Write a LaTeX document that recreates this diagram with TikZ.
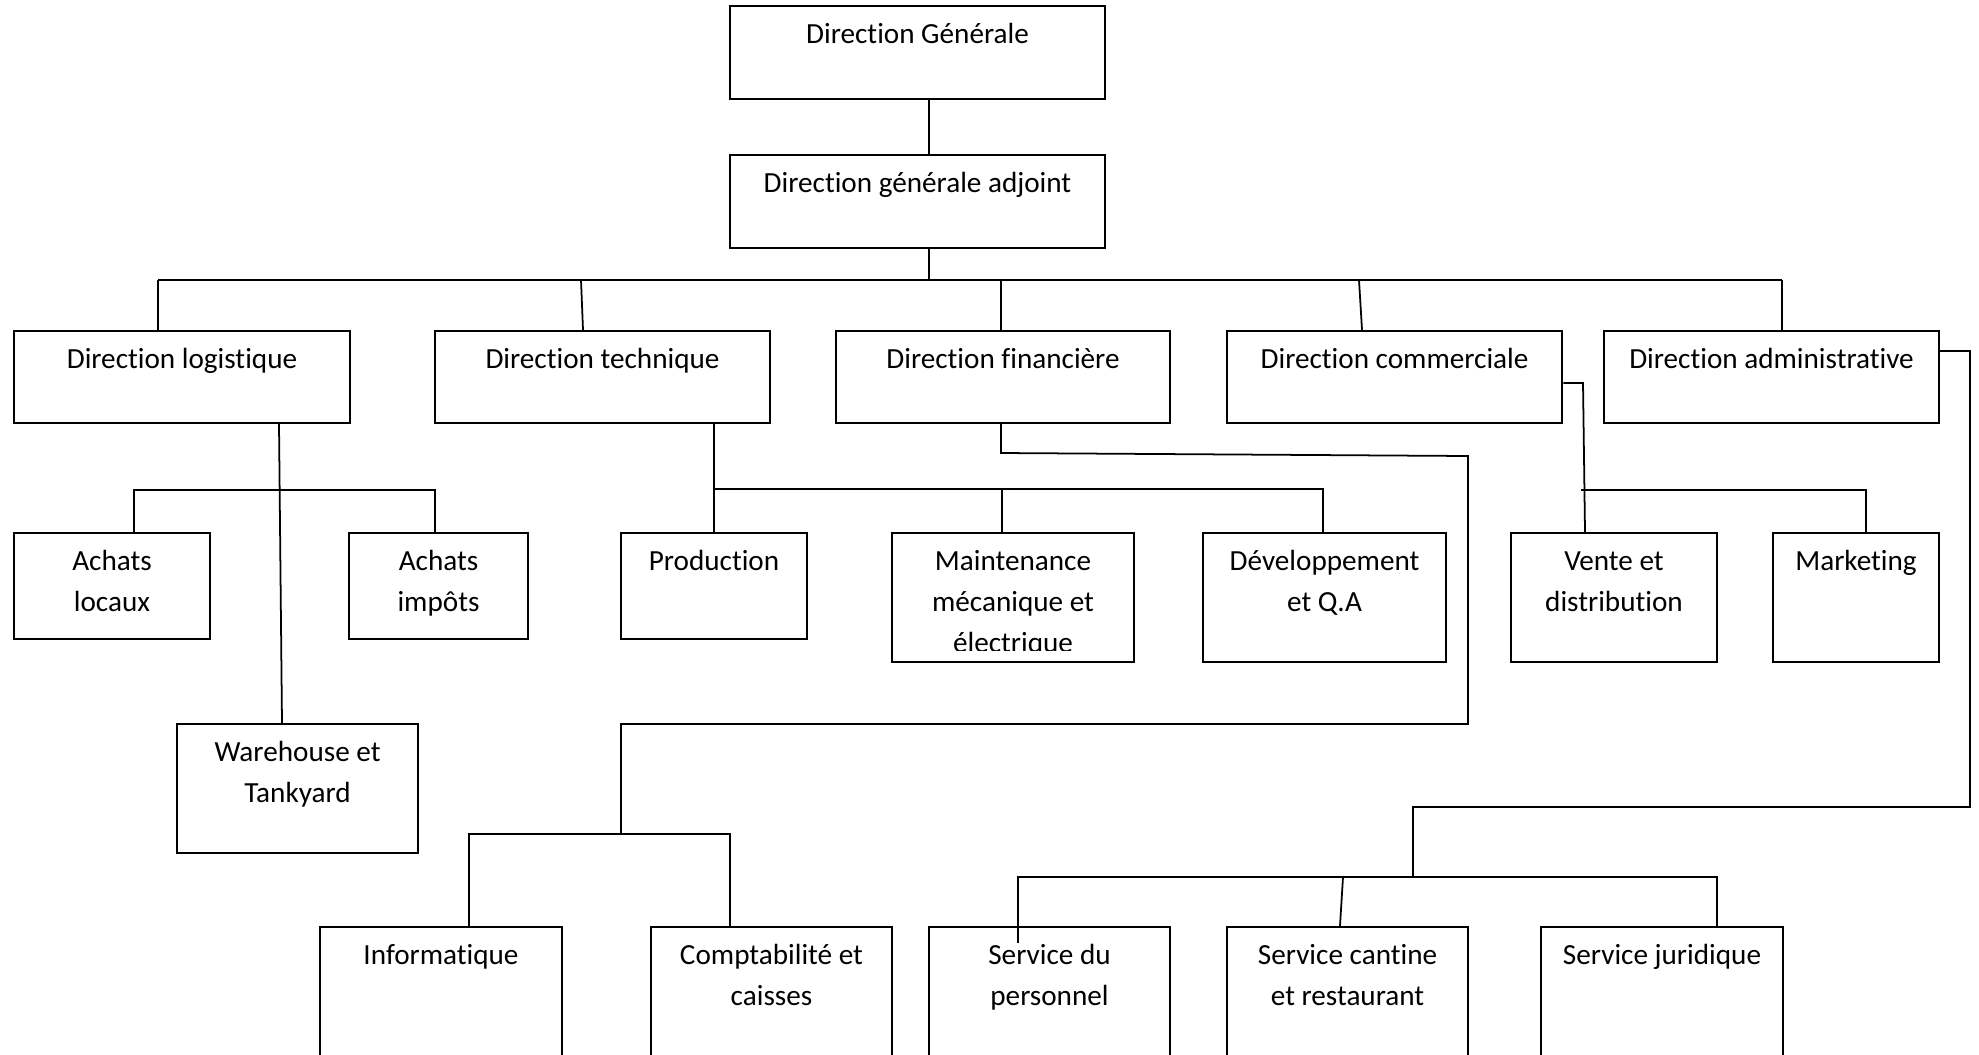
\documentclass[tikz,border=0pt]{standalone}
\usepackage{fontspec}
\setmainfont{Carlito}[Ligatures=NoCommon]
\usetikzlibrary{fit}
\newcommand\fstrut{\rule{0pt}{8pt}}
\begin{document}
\begin{tikzpicture}[x=0.01cm,y=-0.01cm,
  box/.style={draw,line width=0.7pt,inner sep=0pt},
  ln/.style={line width=0.5pt},
  lbl/.style={font=\fontsize{8.3}{11.67}\selectfont,align=center,inner sep=0pt,anchor=north}]
\useasboundingbox (0,0) rectangle (1979,1054);
\clip (0,0) rectangle (1979,1054);
% boxes
\node[box,fit={(730,6)(1105,99)}] (dg) {};
\node[box,fit={(730,155)(1105,248)}] (dga) {};
\node[box,fit={(14,331)(350,423)}] (log) {};
\node[box,fit={(435,331)(770,423)}] (tech) {};
\node[box,fit={(836,331)(1170,423)}] (fin) {};
\node[box,fit={(1227,331)(1562,423)}] (com) {};
\node[box,fit={(1604,331)(1939,423)}] (adm) {};
\node[box,fit={(14,533)(210,639)}] (al) {};
\node[box,fit={(349,533)(528,639)}] (ai) {};
\node[box,fit={(177,724)(418,853)}] (wh) {};
\node[box,fit={(621,533)(807,639)}] (prod) {};
\node[box,fit={(892,533)(1134,662)}] (maint) {};
\node[box,fit={(1203,533)(1446,662)}] (dev) {};
\node[box,fit={(1511,533)(1717,662)}] (vente) {};
\node[box,fit={(1773,533)(1939,662)}] (mkt) {};
\node[box,fit={(320,927)(562,1090)}] (info) {};
\node[box,fit={(651,927)(892,1090)}] (compta) {};
\node[box,fit={(929,927)(1170,1090)}] (pers) {};
\node[box,fit={(1227,927)(1468,1090)}] (cant) {};
\node[box,fit={(1541,927)(1783,1090)}] (jur) {};
% labels
\node[lbl] (tdg) at ([yshift=-0.099cm]dg.north) {\fstrut Direction Générale};
\node[lbl] (tdga) at ([yshift=-0.099cm]dga.north) {\fstrut Direction générale adjoint};
\node[lbl] (tlog) at ([yshift=-0.099cm]log.north) {\fstrut Direction logistique};
\node[lbl] (ttech) at ([yshift=-0.099cm]tech.north) {\fstrut Direction technique};
\node[lbl] (tfin) at ([yshift=-0.099cm]fin.north) {\fstrut Direction financière};
\node[lbl] (tcom) at ([yshift=-0.099cm]com.north) {\fstrut Direction commerciale};
\node[lbl] (tadm) at ([yshift=-0.099cm]adm.north) {\fstrut Direction administrative};
\node[lbl] (tal) at ([yshift=-0.099cm]al.north) {\fstrut Achats\\locaux};
\node[lbl] (tai) at ([yshift=-0.099cm]ai.north) {\fstrut Achats\\impôts};
\node[lbl] (twh) at ([yshift=-0.099cm]wh.north) {\fstrut Warehouse et\\Tankyard};
\node[lbl] (tprod) at ([yshift=-0.099cm]prod.north) {\fstrut Production};
\begin{scope}
\clip (892,533) rectangle (1134,650);
\node[lbl] (tmaint) at ([yshift=-0.099cm]maint.north) {\fstrut Maintenance\\mécanique et\\électrique};
\end{scope}
\node[lbl] (tdev) at ([yshift=-0.099cm]dev.north) {\fstrut Développement\\et Q.A};
\node[lbl] (tvente) at ([yshift=-0.099cm]vente.north) {\fstrut Vente et\\distribution};
\node[lbl] (tmkt) at ([yshift=-0.099cm]mkt.north) {\fstrut Marketing};
\node[lbl] (tinfo) at ([yshift=-0.099cm]info.north) {\fstrut Informatique};
\node[lbl] (tcompta) at ([yshift=-0.099cm]compta.north) {\fstrut Comptabilité et\\caisses};
\node[lbl] (tpers) at ([yshift=-0.099cm]pers.north) {\fstrut Service du\\personnel};
\node[lbl] (tcant) at ([yshift=-0.099cm]cant.north) {\fstrut Service cantine\\et restaurant};
\node[lbl] (tjur) at ([yshift=-0.099cm]jur.north) {\fstrut Service juridique};
% connectors top
\draw[ln] (929,0 |- dg.south) -- (929,0 |- dga.north);
\draw[ln] (929,0 |- dga.south) -- (929,280) coordinate (b0);
\draw[ln] (158,280) coordinate (b0l) -- (1782,280) coordinate (b0r);
\draw[ln] (b0l) -- (158,0 |- log.north);
\draw[ln] (581,280) -- (583,0 |- tech.north);
\draw[ln] (1001,280) -- (1001,0 |- fin.north);
\draw[ln] (1359,280) -- (1362,0 |- com.north);
\draw[ln] (b0r) -- (1782,0 |- adm.north);
% logistique
\draw[ln] (279,0 |- log.south) -- (282,0 |- wh.north);
\draw[ln] (134,0 |- al.north) -- (134,490) -- (435,490) -- (435,0 |- ai.north);
% technique
\draw[ln] (714,0 |- tech.south) -- (714,0 |- prod.north);
\draw[ln] (714,489) -- (1323,489) -- (1323,0 |- dev.north);
\draw[ln] (1002,489) -- (1002,0 |- maint.north);
% financiere
\draw[ln] (1001,0 |- fin.south) -- (1001,453) -- (1468,456) -- (1468,724) -- (621,724) -- (621,834) coordinate (b3);
\draw[ln] (469,0 |- info.north) -- (469,834) -- (730,834) -- (730,0 |- compta.north);
% commerciale
\draw[ln] (com.east |- 0,383) -- (1583,383) -- (1585,0 |- vente.north);
\draw[ln] (1581,490) -- (1866,490) -- (1866,0 |- mkt.north);
% administrative
\draw[ln] (adm.east |- 0,351) -- (1970,351) -- (1970,807) -- (1413,807) -- (1413,877);
\coordinate (pin) at (1018,943);
\draw[ln] (pin) -- (1018,877) -- (1717,877) -- (1717,0 |- jur.north);
\draw[ln] (1343,877) -- (1340,0 |- cant.north);
\end{tikzpicture}
\end{document}
